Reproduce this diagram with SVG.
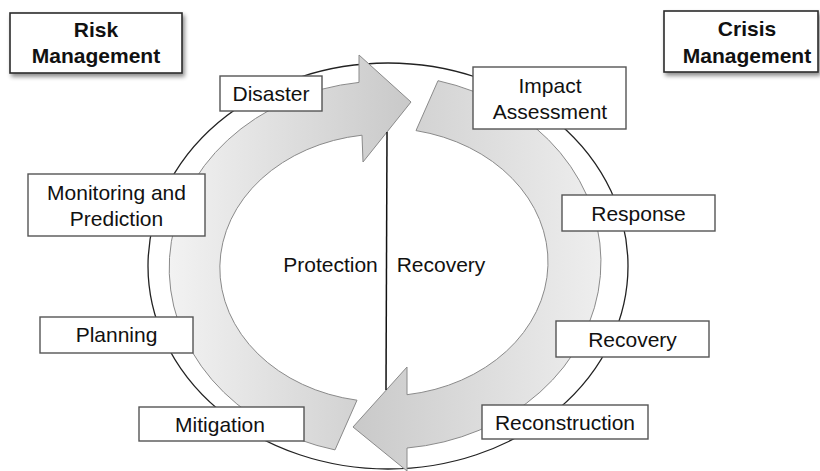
<svg xmlns="http://www.w3.org/2000/svg" width="820" height="471" viewBox="0 0 820 471">
<defs>
<style>
.box{fill:#fff;stroke:#555;stroke-width:1.4}
.hbox{fill:#fff;stroke:#2a2a2a;stroke-width:1.6}
.t{font-family:"Liberation Sans",Arial,sans-serif;font-size:21px;fill:#111;text-anchor:middle}
.b{font-weight:bold}
.arrow{stroke:#8a8a8a;stroke-width:1}
</style>
<linearGradient id="g1" gradientUnits="userSpaceOnUse" x1="170" y1="0" x2="410" y2="0">
<stop offset="0" stop-color="#f2f2f2"/><stop offset="1" stop-color="#c9c9c9"/>
</linearGradient>
<linearGradient id="g2" gradientUnits="userSpaceOnUse" x1="600" y1="0" x2="353" y2="0">
<stop offset="0" stop-color="#eeeeee"/><stop offset="1" stop-color="#c9c9c9"/>
</linearGradient>
<filter id="sh" x="-10%" y="-10%" width="130%" height="140%">
<feDropShadow dx="2" dy="3" stdDeviation="2" flood-color="#000" flood-opacity="0.45"/>
</filter>
</defs>
<rect width="820" height="471" fill="#fff"/>
<g id="cycle">
<ellipse cx="388" cy="266" rx="240" ry="203" fill="none" stroke="#222" stroke-width="1.3"/>
<path id="arrow-protection" class="arrow" fill="url(#g1)" d="M335,449.9 A216,187 0 0 1 359,82.4 L359,55 L411,102 L363,162 L362,135.2 A164,134 0 0 0 357,400.2 Z"/>
<path id="arrow-recovery" class="arrow" fill="url(#g2)" d="M438,80.7 A216,187 0 0 1 407,448 L407,471 L353,427 L407,367 L407,394.7 A164,134 0 0 0 416,130.6 Z"/>
</g>
<g id="connectors">
<line x1="387" y1="132" x2="386" y2="390" stroke="#111" stroke-width="1.5"/>
</g>
<g id="labels">
<text class="t" x="330.5" y="272">Protection</text>
<text class="t" x="441" y="272">Recovery</text>
</g>
<g id="risk-management">
<rect class="hbox" x="10" y="13" width="172" height="60" filter="url(#sh)"/>
<text class="t b" x="96" y="37">Risk</text>
<text class="t b" x="96" y="63">Management</text>
</g>
<g id="crisis-management">
<rect class="hbox" x="664" y="11" width="154" height="61" filter="url(#sh)"/>
<text class="t b" x="747" y="36">Crisis</text>
<text class="t b" x="747" y="63">Management</text>
</g>
<g id="disaster">
<rect class="box" x="220" y="76" width="102" height="35"/>
<text class="t" x="271" y="101">Disaster</text>
</g>
<g id="impact-assessment">
<rect class="box" x="473" y="67" width="153" height="62"/>
<text class="t" x="550" y="93">Impact</text>
<text class="t" x="550" y="119">Assessment</text>
</g>
<g id="monitoring">
<rect class="box" x="28" y="174" width="177" height="62"/>
<text class="t" x="116.5" y="200">Monitoring and</text>
<text class="t" x="116.5" y="226">Prediction</text>
</g>
<g id="planning">
<rect class="box" x="40" y="317" width="153" height="36"/>
<text class="t" x="116.5" y="342">Planning</text>
</g>
<g id="response">
<rect class="box" x="562" y="195" width="153" height="36"/>
<text class="t" x="638.5" y="221">Response</text>
</g>
<g id="recovery">
<rect class="box" x="556" y="321" width="153" height="36"/>
<text class="t" x="632.5" y="347">Recovery</text>
</g>
<g id="mitigation">
<rect class="box" x="139" y="407" width="165" height="34"/>
<text class="t" x="220" y="432">Mitigation</text>
</g>
<g id="reconstruction">
<rect class="box" x="482" y="405" width="166" height="34"/>
<text class="t" x="565" y="430">Reconstruction</text>
</g>
</svg>
